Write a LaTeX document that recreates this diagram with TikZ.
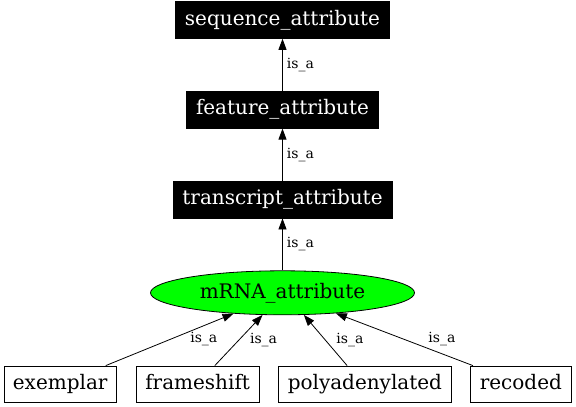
\documentclass[tikz,border=0pt]{standalone}
\usepackage{fontspec}
\setmainfont{DejaVu Serif}
\usetikzlibrary{positioning,shapes.geometric,arrows.meta}

\begin{document}
\begin{tikzpicture}[
  x=1pt, y=1pt,
  node distance=52pt and 19pt,
  nodefont/.style={font=\fontsize{20}{24}\selectfont,text height=15pt,text depth=4.5pt},
  termbox/.style={nodefont,draw,rectangle,minimum height=36pt,inner xsep=9pt,inner ysep=0pt,line width=0.8pt},
  blackbox/.style={termbox,fill=black,text=white,minimum height=37pt,inner xsep=9.5pt},
  mrnanode/.style={nodefont,draw,ellipse,fill=green,minimum width=264pt,minimum height=44pt,inner sep=0pt,line width=0.8pt},
  isa/.style={line width=0.8pt,-{Triangle[length=11pt,width=8pt]}},
  islabel/.style={font=\fontsize{14}{16}\selectfont,inner sep=1pt}
]
\useasboundingbox (0,0) rectangle (576,-407);
\node[mrnanode] (mrna) at (282.5,-292.8) {mRNA\_attribute};
\node[blackbox,above=of mrna] (trans) {transcript\_attribute};
\node[blackbox,above=of trans] (feat) {feature\_attribute};
\node[blackbox,above=of feat] (seq) {sequence\_attribute};
\node[termbox,anchor=west] (exemplar) at (3.5,-384) {exemplar};
\node[termbox,right=of exemplar] (frameshift) {frameshift};
\node[termbox,right=of frameshift] (polyA) {polyadenylated};
\node[termbox,right=of polyA] (recoded) {recoded};
\draw[isa] (feat) -- (seq) node[islabel,midway,right=3pt] {is\_a};
\draw[isa] (trans) -- (feat) node[islabel,midway,right=3pt] {is\_a};
\draw[isa] (mrna) -- (trans) node[islabel,midway,right=3pt] {is\_a};
\draw[isa] (exemplar.22) -- (mrna.203) node[islabel,pos=0.51,anchor=west,xshift=18pt] {is\_a};
\draw[isa] (frameshift.47) -- (mrna.228) node[islabel,pos=0.51,anchor=west,xshift=9.5pt] {is\_a};
\draw[isa] (polyA.134) -- (mrna.314) node[islabel,pos=0.51,anchor=west,xshift=10pt] {is\_a};
\draw[isa] (recoded.159) -- (mrna.339) node[islabel,pos=0.51,anchor=west,xshift=24pt] {is\_a};
\end{tikzpicture}
\end{document}
